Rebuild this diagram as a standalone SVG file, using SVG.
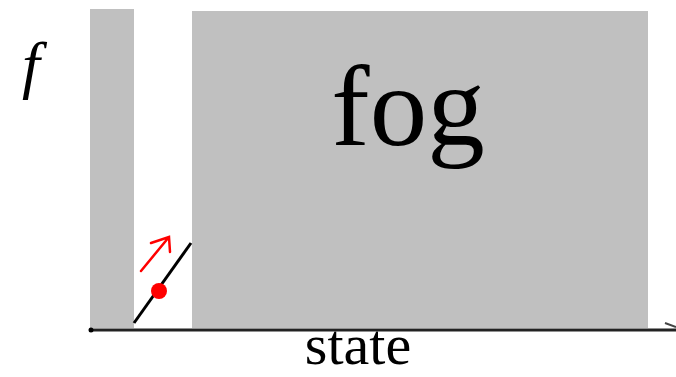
<svg xmlns="http://www.w3.org/2000/svg" width="676" height="377" viewBox="0 0 676 377">
<style>
.region{fill:#c0c0c0}
.t{font-family:"Liberation Serif","Times New Roman",serif;fill:#000}
</style>
<rect width="676" height="377" fill="#fff"/>
<g id="region-left"><rect class="region" x="90" y="9" width="44" height="319"/></g>
<g id="region-fog"><rect class="region" x="192" y="11" width="456" height="317"/>
<text class="t" x="408" y="145" font-size="115" text-anchor="middle">fog</text></g>
<g id="label-f"><text class="t" x="31" y="86" font-size="64" font-style="italic" text-anchor="middle">f</text></g>
<g id="label-state"><text class="t" x="358" y="364" font-size="58" text-anchor="middle">state</text></g>
<g id="connectors">
<line x1="90" y1="330" x2="676" y2="330" stroke="#222" stroke-width="3"/>
<circle cx="91" cy="330" r="2.5" fill="#000"/>
<path d="M665,323 L676,327" stroke="#444" stroke-width="2" fill="none"/>
<line x1="134" y1="323" x2="191" y2="243" stroke="#000" stroke-width="3"/>
<circle cx="159" cy="291" r="8" fill="#f00"/>
<path d="M141,271 L169,237 M151,243 L169,237 L170,252" stroke="#f00" stroke-width="2.5" fill="none" stroke-linecap="round"/>
</g>
</svg>
